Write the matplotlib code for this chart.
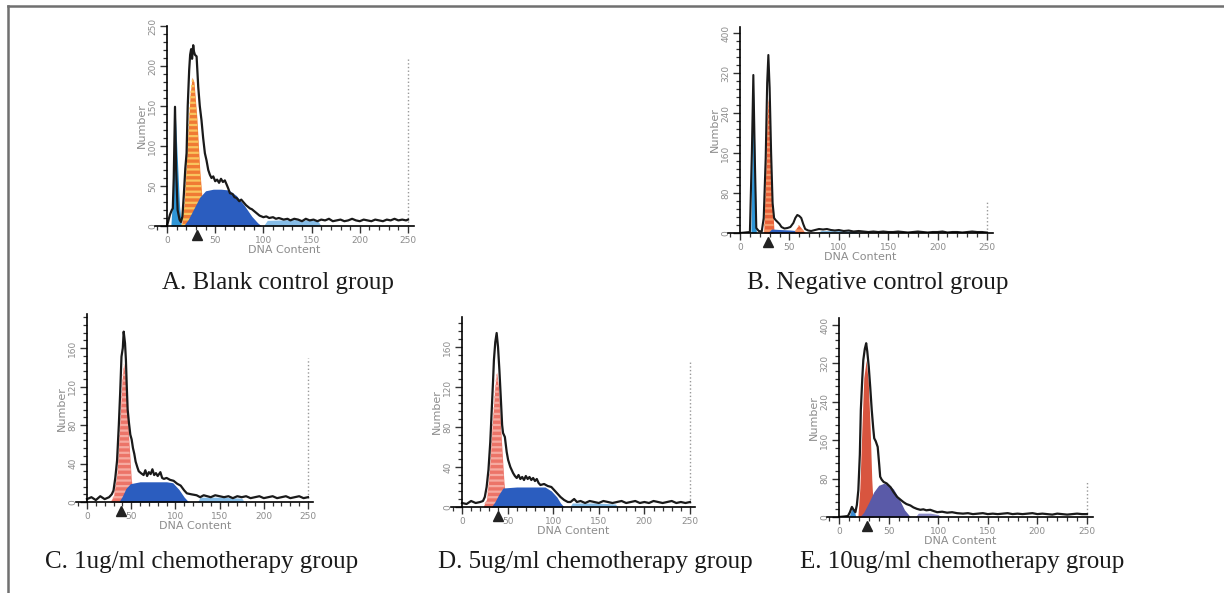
import matplotlib
matplotlib.use('Agg')
import matplotlib.pyplot as plt
from matplotlib.ticker import MultipleLocator
from matplotlib.lines import Line2D
import matplotlib.transforms as mtransforms

W, H = 1224, 593
plt.rcParams['hatch.linewidth'] = 1.6

# ---------------- A. Blank control group ----------------
a_hist_x = [0, 3, 5, 6, 7, 8.3, 9.5, 11, 13, 14.5,
            16, 17.5, 19, 20.3, 21.5, 23, 24, 25, 26, 27.2,
            28, 29, 30.7, 32.4, 34, 35.8, 37.5, 39.3, 41, 42.8,
            44.5, 46.2, 48, 50, 52, 54, 56, 58, 60, 61.8,
            63.5, 65.3, 68, 70, 72.2, 75, 77, 79.1, 82, 84,
            86, 88, 90, 93, 96, 100, 103, 106, 110, 113,
            116, 121, 125, 128, 132, 136, 140, 144, 148, 152,
            156, 160, 164, 168, 172, 176, 180, 184, 188, 192,
            196, 200, 204, 208, 212, 216, 220, 224, 228, 232,
            236, 240, 244, 248, 250]
a_hist_y = [0, 14, 20, 22, 60, 149, 70, 20, 8, 5,
            12, 40, 72, 91, 150, 195, 214, 221, 209, 226,
            218, 214, 212, 174, 150, 132, 110, 91, 82, 70,
            64, 60, 62, 56, 58, 54, 59, 55, 57, 52,
            47, 41, 40, 36, 35, 31, 33, 30, 26, 24,
            22, 21, 19, 16, 13, 11, 12, 10, 11, 9,
            10, 8, 9, 7, 9, 8, 6, 9, 7, 8,
            6, 8, 7, 9, 6, 7, 8, 6, 7, 9,
            7, 6, 8, 7, 6, 8, 7, 6, 8, 7,
            9, 7, 8, 7, 8]
a_debris_x = [4, 6, 8.3, 10.5, 13, 15]
a_debris_y = [0, 40, 149, 90, 25, 0]
a_g1_x = [15, 18, 21, 24, 26, 28, 31, 34, 37, 40]
a_g1_y = [0, 30, 100, 165, 186, 180, 135, 70, 25, 0]
a_s_x = [17, 22, 28, 34, 40, 48, 56, 64, 72, 80, 88, 94, 98]
a_s_y = [0, 8, 22, 36, 44, 46, 46, 45, 38, 26, 12, 4, 0]
a_g2_x = [100, 104, 130, 156, 160]
a_g2_y = [0, 7, 8, 7, 0]

# ---------------- B. Negative control group ----------------
b_hist_x = [0, 10, 12, 13.5, 15, 16.5, 19, 22, 24, 26,
            27.5, 28.7, 30, 31.5, 33, 34.5, 36, 38, 40, 42,
            45, 48, 51, 54, 56, 58, 60, 62, 64, 66,
            69, 72, 76, 80, 84, 88, 92, 96, 100, 105,
            110, 115, 120, 125, 130, 135, 140, 145, 150, 155,
            160, 165, 170, 175, 180, 185, 190, 195, 200, 205,
            210, 215, 220, 225, 230, 235, 240, 245, 250]
b_hist_y = [0, 2, 160, 316, 150, 10, 4, 3, 30, 150,
            300, 356, 290, 160, 60, 30, 26, 22, 18, 12,
            9, 10, 12, 20, 30, 36, 34, 30, 18, 8,
            5, 4, 6, 8, 7, 8, 6, 5, 6, 4,
            5, 3, 4, 3, 2, 3, 2, 3, 2, 2,
            3, 2, 1, 2, 3, 2, 1, 2, 2, 3,
            1, 2, 2, 1, 2, 3, 2, 2, 1]
b_debris_x = [11, 12.5, 13.5, 15, 16.5]
b_debris_y = [0, 200, 300, 160, 0]
b_g1_x = [24, 26, 27.5, 28.7, 30, 32, 34.5]
b_g1_y = [0, 120, 240, 270, 230, 90, 0]
b_s_x = [28, 32, 40, 50, 56, 60]
b_s_y = [0, 8, 7, 6, 5, 0]
b_g2_x = [55, 57, 59.5, 62, 66]
b_g2_y = [0, 10, 16, 10, 0]
b_tail_x = [78, 82, 100, 117, 120]
b_tail_y = [0, 5, 5, 4, 0]

# ---------------- C. 1ug/ml ----------------
c_hist_x = [0, 5, 10, 15, 20, 25, 28, 30, 32, 34,
            36, 37.5, 39, 40.5, 41.5, 43, 44, 45, 46, 47.5,
            49, 50.5, 52, 53.5, 55, 57, 58.5, 61, 64, 66,
            68, 70, 72, 74, 76, 78, 80, 83, 85, 87,
            90, 94, 98, 102, 106, 110, 113, 118, 124, 128,
            132, 136, 140, 145, 150, 155, 160, 165, 170, 175,
            180, 185, 190, 195, 200, 205, 210, 215, 220, 225,
            230, 235, 240, 245, 250]
c_hist_y = [3, 5, 2, 6, 3, 5, 8, 12, 25, 43,
            80, 113, 151, 160, 177, 165, 148, 120, 96, 82,
            70, 65, 56, 50, 42, 36, 32, 30, 28, 33,
            27, 31, 29, 34, 28, 30, 27, 31, 25, 24,
            25, 23, 22, 19, 17, 12, 9, 8, 7, 5,
            7, 6, 5, 7, 6, 5, 6, 4, 6, 5,
            6, 4, 5, 6, 4, 5, 6, 4, 5, 6,
            4, 5, 6, 4, 5]
c_g1_x = [26, 30, 34, 37, 39.5, 41.5, 44, 47, 50, 53]
c_g1_y = [0, 6, 30, 80, 125, 144, 125, 70, 25, 0]
c_s_x = [36, 40, 44, 49, 60, 75, 90, 97, 104, 110, 115]
c_s_y = [0, 6, 14, 19, 21, 21, 21, 20, 13, 5, 0]
c_g2_x = [125, 128, 150, 175, 178]
c_g2_y = [0, 5, 5, 4, 0]

# ---------------- D. 5ug/ml ----------------
d_hist_x = [0, 5, 10, 15, 20, 23, 25, 27, 29, 31,
            32.6, 34, 35, 36.5, 38, 39.5, 41, 42.5, 44, 45,
            46, 47, 49, 50.6, 53, 56, 58, 60, 62, 64,
            66, 68, 70, 72, 74, 76, 78, 80, 82, 84,
            86, 90, 94, 98, 101, 104, 108, 112, 116, 119,
            123, 126, 130, 135, 140, 145, 150, 155, 160, 165,
            170, 175, 180, 185, 190, 195, 200, 205, 210, 215,
            220, 225, 230, 235, 240, 245, 250]
d_hist_y = [4, 3, 6, 4, 5, 6, 10, 20, 37, 65,
            97, 125, 147, 165, 174, 160, 137, 110, 82, 74,
            72, 70, 55, 47, 40, 34, 31, 29, 32, 28,
            30, 27, 31, 28, 30, 27, 29, 26, 28, 24,
            22, 23, 21, 20, 17, 14, 10, 7, 5, 5,
            8, 5, 6, 4, 6, 5, 4, 6, 5, 4,
            5, 6, 4, 5, 6, 4, 5, 4, 6, 5,
            4, 5, 6, 4, 5, 4, 5]
d_g1_x = [23, 27, 30, 33, 36, 38, 40, 43, 46, 49]
d_g1_y = [0, 8, 35, 80, 120, 135, 120, 70, 25, 0]
d_s_x = [32, 36, 40, 45, 60, 75, 91, 98, 104, 108, 112]
d_s_y = [0, 5, 12, 19, 20, 20, 20, 16, 10, 4, 0]
d_g2_x = [118, 121, 145, 168, 171]
d_g2_y = [0, 4, 4, 3, 0]

# ---------------- E. 10ug/ml ----------------
e_hist_x = [0, 5, 9, 11, 13, 15, 16.5, 18, 19.5, 21,
            22, 23.5, 24.5, 26, 27.4, 28.5, 30, 31.5, 33, 34.5,
            35.5, 37, 39, 40.5, 41.5, 43, 45, 48, 52, 55,
            58.5, 62, 65, 68, 72, 75, 78.5, 82, 85, 88,
            92, 96, 99, 104, 109, 114, 119, 125, 130, 135,
            140, 145, 150, 155, 160, 165, 170, 175, 180, 185,
            190, 195, 200, 205, 210, 215, 220, 225, 230, 235,
            240, 245, 250]
e_hist_y = [0, 1, 2, 10, 21, 14, 10, 25, 56, 130,
            223, 290, 327, 350, 362, 345, 313, 270, 223, 185,
            164, 158, 146, 110, 84, 78, 73, 70, 62, 52,
            42, 36, 31, 27, 24, 20, 17, 15, 16, 14,
            15, 12, 10, 11, 9, 10, 8, 7, 8, 6,
            7, 8, 6, 7, 6, 7, 8, 6, 7, 6,
            7, 8, 6, 7, 6, 5, 7, 6, 5, 6,
            7, 6, 6]
e_debris_x = [10, 12, 13.5, 15.5, 17]
e_debris_y = [0, 12, 18, 12, 0]
e_g1_x = [19, 21, 23, 25, 27.4, 29.5, 31.5, 33, 35]
e_g1_y = [0, 60, 180, 290, 327, 280, 180, 80, 0]
e_s_x = [21, 25, 30, 35, 40, 45, 50, 55, 60, 66, 72]
e_s_y = [0, 10, 30, 52, 66, 70, 68, 58, 40, 15, 0]
e_g2_x = [77, 80, 92, 100, 103]
e_g2_y = [0, 8, 8, 5, 0]

captions = ['A. Blank control group', 'B. Negative control group',
            'C. 1ug/ml chemotherapy group', 'D. 5ug/ml chemotherapy group',
            'E. 10ug/ml chemotherapy group']
y_major = [50, 80, 40, 40, 80]
y_minor = [10, 16, 8, 8, 16]
y_max = [250, 412, 195, 190, 414]
gate_pos = [31, 28, 39, 39.5, 28]
end_marker = [210, 62, 150, 147, 74]

# pixel layout: x of channel 0, x of channel 250, y of count 0, px per count
layout = [(167, 408, 226, 0.80),
          (740, 987, 233, 0.50),
          (87, 308, 502, 0.9625),
          (462, 690, 507, 1.00),
          (839, 1087, 517, 0.48)]
cap_pos = [(278, 283), (878, 283), (202, 562), (595, 562), (962, 562)]

fig = plt.figure(figsize=(W / 100, H / 100), dpi=100)
fig.patch.set_facecolor('white')

# frame lines (top and left)
fig.add_artist(Line2D([8 / W, 1], [1 - 6 / H, 1 - 6 / H], color='#707070', lw=1.8))
fig.add_artist(Line2D([8 / W, 8 / W], [0, 1 - 6 / H], color='#707070', lw=1.8))

gray = '#8c8c8c'


def make_ax(i):
    x0, x250, y0, py = layout[i]
    sx = (x250 - x0) / 250
    lo, hi = -12, 256
    left = x0 + lo * sx
    width = (hi - lo) * sx
    height = y_max[i] * py
    ax = fig.add_axes([left / W, (H - y0) / H, width / W, height / H])
    ax.set_xlim(lo, hi)
    ax.set_ylim(0, y_max[i])
    ax.patch.set_alpha(0)
    for s in ['top', 'right']:
        ax.spines[s].set_visible(False)
    ax.spines['left'].set_position(('data', 0))
    ax.spines['left'].set_linewidth(1.2)
    ax.spines['bottom'].set_linewidth(1.2)
    ax.xaxis.set_major_locator(MultipleLocator(50))
    ax.xaxis.set_minor_locator(MultipleLocator(10))
    ax.yaxis.set_major_locator(MultipleLocator(y_major[i]))
    ax.yaxis.set_minor_locator(MultipleLocator(y_minor[i]))
    ax.tick_params(which='major', length=5, width=1, color='#333333',
                   labelsize=6.5, labelcolor=gray, pad=2)
    ax.tick_params(which='minor', length=3, width=0.9, color='#333333')
    for lab in ax.get_yticklabels():
        lab.set_rotation(90)
        lab.set_va('center')
    ax.set_xlabel('DNA Content', fontsize=8, color=gray, labelpad=0)
    ax.set_ylabel('Number', fontsize=8, color=gray, labelpad=1)
    # end-of-scale marker and gate triangle
    ax.vlines(250, 0, end_marker[i], color='#999999', lw=1, linestyles=':')
    tr = mtransforms.offset_copy(ax.transData, fig=fig, y=-9, units='dots')
    ax.plot([gate_pos[i]], [0], marker='^', color='#222222', ms=7,
            transform=tr, clip_on=False)
    fig.text(cap_pos[i][0] / W, 1 - cap_pos[i][1] / H, captions[i],
             ha='center', va='center', fontsize=18,
             family='Liberation Serif', color='#1a1a1a')
    return ax


def striped(ax, x, y, face, stripe):
    ax.fill_between(x, y, color=face, lw=0)
    ax.fill_between(x, y, facecolor='none', edgecolor=stripe, hatch='---', lw=0)


# A
ax = make_ax(0)
ax.fill_between(a_debris_x, a_debris_y, color='#2e95d6', lw=0)
striped(ax, a_g1_x, a_g1_y, '#f07a34', '#f9c45e')
ax.fill_between(a_s_x, a_s_y, color='#2b5dbf', lw=0)
ax.fill_between(a_g2_x, a_g2_y, color='#86bde8', lw=0)
ax.plot(a_hist_x, a_hist_y, color='#1a1a1a', lw=1.6)

# B
ax = make_ax(1)
ax.fill_between(b_debris_x, b_debris_y, color='#2e95d6', lw=0)
striped(ax, b_g1_x, b_g1_y, '#e9623a', '#f49a6a')
ax.fill_between(b_s_x, b_s_y, color='#2b5dbf', lw=0)
striped(ax, b_g2_x, b_g2_y, '#e9623a', '#f49a6a')
ax.fill_between(b_tail_x, b_tail_y, color='#86bde8', lw=0)
ax.plot(b_hist_x, b_hist_y, color='#1a1a1a', lw=1.5)

# C
ax = make_ax(2)
striped(ax, c_g1_x, c_g1_y, '#ec7468', '#f6aaa0')
ax.fill_between(c_s_x, c_s_y, color='#2b5dbf', lw=0)
ax.fill_between(c_g2_x, c_g2_y, color='#86bde8', lw=0)
ax.plot(c_hist_x, c_hist_y, color='#1a1a1a', lw=1.6)

# D
ax = make_ax(3)
striped(ax, d_g1_x, d_g1_y, '#ec7468', '#f6aaa0')
ax.fill_between(d_s_x, d_s_y, color='#2b5dbf', lw=0)
ax.fill_between(d_g2_x, d_g2_y, color='#86bde8', lw=0)
ax.plot(d_hist_x, d_hist_y, color='#1a1a1a', lw=1.6)

# E
ax = make_ax(4)
ax.fill_between(e_debris_x, e_debris_y, color='#3a8ad0', lw=0)
ax.fill_between(e_g1_x, e_g1_y, color='#d8553f', lw=0)
ax.fill_between(e_s_x, e_s_y, color='#5a5aa8', lw=0)
ax.fill_between(e_g2_x, e_g2_y, color='#8c8cc8', lw=0)
ax.plot(e_hist_x, e_hist_y, color='#1a1a1a', lw=1.6)

fig.savefig('out.png', dpi=100)
